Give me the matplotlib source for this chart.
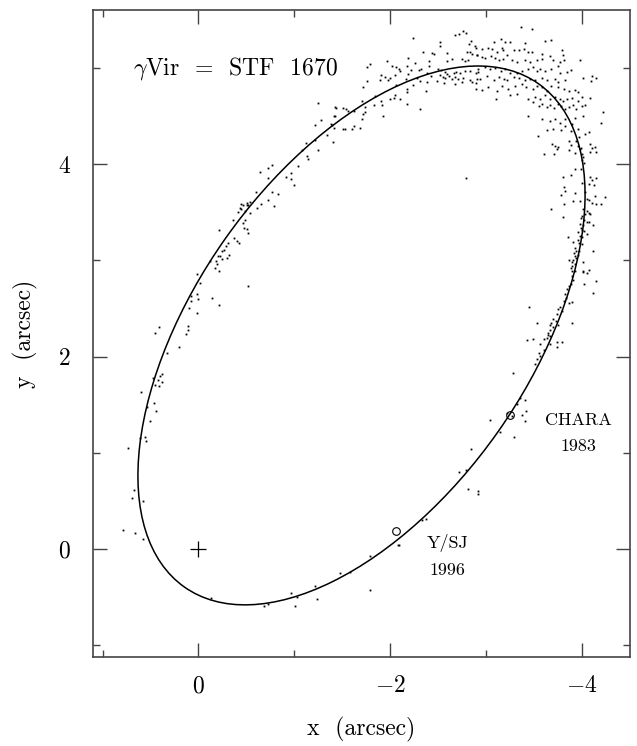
import matplotlib
matplotlib.use("Agg")
import matplotlib.pyplot as plt
from matplotlib.patches import Ellipse
import numpy as np

plt.rcParams["font.family"] = ["cmr10", "DejaVu Serif"]
plt.rcParams["mathtext.fontset"] = "cm"
plt.rcParams["axes.formatter.use_mathtext"] = True

# Apparent relative orbit (geometric ellipse, arcsec / degrees)
ORBIT_CENTER = (-1.70, 2.22)
ORBIT_AXES = (6.40, 3.48)
ORBIT_ANGLE = 125.3

# Observations (x, y) in arcsec
obs_points = [
    (-2.24, 5.31), (-2.67, 5.34), (-2.72, 5.35), (-2.76, 5.38), (-2.79, 5.36),
    (-2.52, 5.27), (-2.52, 5.23), (-2.82, 5.25), (-2.84, 5.28), (-2.88, 5.23),
    (-2.34, 5.16), (-2.43, 5.15), (-2.46, 5.14), (-2.59, 5.15), (-2.80, 5.16),
    (-2.83, 5.16), (-2.85, 5.14), (-2.90, 5.13), (-2.18, 5.10), (-2.40, 5.07),
    (-2.59, 5.07), (-2.64, 5.09), (-2.75, 5.09), (-2.78, 5.07), (-2.81, 5.08),
    (-1.79, 5.04), (-1.76, 5.01), (-1.97, 5.07), (-2.02, 5.02), (-2.06, 5.01),
    (-2.09, 4.99), (-2.10, 4.97), (-2.17, 5.02), (-2.22, 4.98), (-2.26, 5.05),
    (-2.30, 4.98), (-2.32, 4.99), (-2.40, 5.02), (-2.38, 4.95), (-2.50, 4.99),
    (-2.53, 4.98), (-2.57, 4.96), (-2.59, 4.94), (-2.52, 4.92), (-2.55, 4.90),
    (-2.57, 4.89), (-2.61, 4.91), (-2.66, 4.95), (-2.69, 4.96), (-2.73, 4.95),
    (-2.78, 4.97), (-2.83, 4.97), (-2.89, 4.95), (-2.92, 4.96), (-2.64, 4.88),
    (-2.68, 4.90), (-2.71, 4.88), (-2.76, 4.89), (-2.83, 4.87), (-2.85, 4.85),
    (-2.90, 4.88), (-1.90, 4.92), (-1.89, 4.87), (-1.95, 4.90), (-2.00, 4.89),
    (-1.98, 4.87), (-2.05, 4.92), (-2.16, 4.88), (-2.19, 4.94), (-2.28, 4.89),
    (-2.42, 4.91), (-2.31, 4.86), (-2.38, 4.85), (-2.49, 4.86), (-2.56, 4.84),
    (-2.67, 4.83), (-2.75, 4.85), (-2.89, 4.84), (-1.76, 4.86), (-1.72, 4.80),
    (-2.06, 4.82), (-2.17, 4.78), (-2.17, 4.75), (-2.24, 4.82), (-2.37, 4.76),
    (-2.00, 4.68), (-2.04, 4.69), (-2.10, 4.68), (-2.05, 4.72), (-1.84, 4.71),
    (-1.90, 4.66), (-1.91, 4.61), (-1.83, 4.61), (-1.70, 4.66), (-1.51, 4.58),
    (-1.54, 4.57), (-1.43, 4.58), (-1.56, 4.55), (-1.62, 4.55), (-1.74, 4.59),
    (-2.31, 4.57), (-2.17, 4.62), (-1.72, 4.52), (-1.74, 4.54), (-1.70, 4.47),
    (-1.92, 4.50), (-1.41, 4.50), (-1.51, 4.36), (-1.53, 4.36), (-1.62, 4.39),
    (-1.60, 4.36), (-1.68, 4.37), (-1.39, 4.41),
    (-3.36, 5.42), (-3.48, 5.40), (-3.15, 5.30), (-3.08, 5.27), (-3.20, 5.27),
    (-3.25, 5.27), (-3.41, 5.26), (-3.61, 5.28), (-3.68, 5.29), (-2.89, 5.21),
    (-2.96, 5.20), (-3.02, 5.21), (-3.06, 5.19), (-3.11, 5.16), (-3.16, 5.21),
    (-3.18, 5.18), (-3.29, 5.18), (-3.34, 5.18), (-3.39, 5.19), (-3.44, 5.16),
    (-3.48, 5.16), (-3.58, 5.14), (-3.67, 5.12), (-3.79, 5.18), (-3.80, 5.13),
    (-2.90, 5.13), (-2.96, 5.11), (-2.99, 5.10), (-3.05, 5.12), (-3.09, 5.10),
    (-3.13, 5.08), (-3.18, 5.09), (-3.22, 5.13), (-3.27, 5.08), (-3.32, 5.06),
    (-3.41, 5.08), (-3.46, 5.06), (-3.53, 5.08), (-3.58, 5.09), (-3.70, 5.08),
    (-3.77, 5.06), (-3.81, 5.08), (-3.98, 5.08), (-2.92, 4.99), (-2.99, 5.01),
    (-3.04, 4.99), (-3.09, 5.00), (-3.15, 4.97), (-3.20, 4.99), (-3.25, 4.95),
    (-3.32, 4.95), (-3.37, 4.97), (-3.44, 4.99), (-3.49, 5.01), (-3.53, 4.97),
    (-3.56, 4.99), (-3.61, 4.97), (-3.68, 4.99), (-3.75, 5.02), (-3.77, 4.95),
    (-3.84, 4.96), (-3.88, 4.98), (-2.94, 4.88), (-3.01, 4.91), (-3.08, 4.87),
    (-3.13, 4.90), (-3.19, 4.88), (-3.22, 4.87), (-3.29, 4.90), (-3.34, 4.89),
    (-3.41, 4.87), (-3.46, 4.88), (-3.51, 4.87), (-3.58, 4.89), (-3.63, 4.87),
    (-3.72, 4.88), (-3.75, 4.85), (-3.82, 4.87), (-4.01, 4.89), (-4.10, 4.91),
    (-4.15, 4.89), (-4.09, 4.86), (-2.89, 4.78), (-2.96, 4.77), (-3.02, 4.80),
    (-3.11, 4.76), (-3.16, 4.81), (-3.23, 4.78), (-3.30, 4.81), (-3.37, 4.83),
    (-3.42, 4.80), (-3.49, 4.78), (-3.53, 4.81), (-3.58, 4.80), (-3.63, 4.76),
    (-3.68, 4.81), (-3.75, 4.80), (-3.81, 4.78), (-3.86, 4.76), (-3.93, 4.77),
    (-3.96, 4.75), (-3.10, 4.68), (-3.25, 4.72), (-3.32, 4.73), (-3.44, 4.68),
    (-3.51, 4.70), (-3.56, 4.68), (-3.61, 4.72), (-3.67, 4.68), (-3.72, 4.70),
    (-3.77, 4.68), (-3.80, 4.66), (-3.84, 4.68), (-3.89, 4.69), (-3.96, 4.66),
    (-4.00, 4.70), (-4.08, 4.69), (-3.49, 4.64), (-3.55, 4.60), (-3.58, 4.62),
    (-3.63, 4.59), (-3.67, 4.61), (-3.71, 4.58), (-3.75, 4.62), (-3.78, 4.60),
    (-3.82, 4.57), (-3.86, 4.59), (-3.91, 4.61), (-3.94, 4.57), (-4.00, 4.60),
    (-4.03, 4.61), (-4.22, 4.54), (-3.44, 4.50), (-3.58, 4.47), (-3.67, 4.45),
    (-3.72, 4.47), (-3.77, 4.43), (-3.82, 4.47), (-3.89, 4.42), (-3.93, 4.48),
    (-4.01, 4.50), (-4.20, 4.43), (-3.63, 4.35), (-3.70, 4.36), (-3.78, 4.35),
    (-3.82, 4.40), (-3.88, 4.34), (-3.96, 4.36), (-4.03, 4.31), (-3.54, 4.29),
    (-4.07, 4.33),
    (-3.69, 4.21), (-3.72, 4.19), (-3.75, 4.18), (-3.74, 4.16), (-3.60, 4.10),
    (-3.71, 4.10), (-3.86, 4.24), (-3.88, 4.20), (-3.86, 4.15), (-3.93, 4.11),
    (-3.94, 4.24), (-3.96, 4.19), (-3.98, 4.16), (-4.00, 4.10), (-4.08, 4.21),
    (-4.10, 4.17), (-4.13, 4.18), (-4.08, 4.12), (-4.15, 4.13), (-3.97, 4.28),
    (-3.99, 4.17), (-4.01, 4.07), (-4.00, 4.04), (-4.02, 4.01), (-3.93, 3.95),
    (-3.99, 3.95), (-3.88, 3.89), (-3.80, 3.87), (-4.08, 3.87), (-4.15, 3.85),
    (-4.10, 3.83), (-4.00, 3.80), (-4.07, 3.79), (-3.81, 3.76), (-4.12, 3.78),
    (-3.93, 3.70), (-3.78, 3.68), (-3.82, 3.72), (-3.91, 3.62), (-3.98, 3.62),
    (-4.03, 3.71), (-4.05, 3.64), (-4.07, 3.63), (-4.10, 3.60), (-4.14, 3.67),
    (-4.15, 3.58), (-4.20, 3.58), (-4.24, 3.66), (-3.81, 3.58), (-3.68, 3.53),
    (-4.01, 3.53), (-4.05, 3.51), (-4.07, 3.49), (-4.03, 3.48), (-4.08, 3.48),
    (-4.00, 3.46), (-3.99, 3.44), (-4.02, 3.42), (-4.05, 3.40), (-4.07, 3.40),
    (-3.98, 3.38), (-4.01, 3.37), (-4.11, 3.37), (-3.99, 3.34), (-4.00, 3.31),
    (-3.96, 3.29), (-4.02, 3.30), (-4.05, 3.27), (-3.98, 3.25), (-4.00, 3.24),
    (-3.96, 3.21), (-3.97, 3.18), (-4.00, 3.17), (-3.93, 3.13), (-3.94, 3.10),
    (-3.97, 3.10), (-3.92, 3.08), (-3.96, 3.06), (-3.93, 3.05), (-3.94, 3.02),
    (-3.91, 3.00), (-3.89, 2.98), (-3.93, 2.96), (-3.90, 2.94), (-3.88, 2.92),
    (-3.89, 2.89), (-3.86, 3.00), (-3.85, 3.24), (-3.91, 3.19), (-3.80, 3.45),
    (-4.11, 3.10), (-4.01, 2.98), (-4.07, 2.90), (-4.01, 2.89),
    (-3.93, 2.89), (-3.90, 2.84), (-4.01, 2.88), (-4.05, 2.87), (-4.15, 2.79),
    (-3.91, 2.80), (-3.88, 2.75), (-3.86, 2.73), (-3.84, 2.70), (-4.02, 2.75),
    (-4.11, 2.66), (-3.82, 2.65), (-3.83, 2.61), (-3.81, 2.58), (-3.86, 2.56),
    (-3.89, 2.57), (-3.45, 2.52), (-3.77, 2.52), (-3.75, 2.49), (-3.79, 2.47),
    (-3.74, 2.44), (-3.70, 2.39), (-3.73, 2.37), (-3.68, 2.35), (-3.67, 2.33),
    (-3.75, 2.33), (-3.53, 2.35), (-3.89, 2.35), (-3.70, 2.31), (-3.67, 2.28),
    (-3.65, 2.25), (-3.64, 2.22), (-3.67, 2.21), (-3.63, 2.19), (-3.60, 2.18),
    (-3.49, 2.18), (-3.43, 2.17), (-3.74, 2.15), (-3.79, 2.15), (-3.56, 2.13),
    (-3.67, 2.13), (-3.74, 2.10), (-3.60, 2.07), (-3.55, 2.04), (-3.56, 2.01),
    (-3.53, 1.97), (-3.51, 1.92), (-3.28, 1.83), (-3.35, 1.57), (-3.41, 1.55),
    (-3.32, 1.51), (-3.42, 1.43), (-3.22, 1.41), (-3.27, 1.38), (-3.37, 1.39),
    (-3.40, 1.33), (-3.29, 1.17), (-3.14, 1.22), (-3.04, 1.34), (-2.84, 1.04),
    (-2.72, 0.80), (-2.79, 0.82), (-2.81, 0.63), (-2.91, 0.60), (-2.91, 0.57),
    (-2.37, 0.31), (-2.33, 0.30), (-2.09, 0.04), (-2.79, 3.85),
    (-1.25, 4.63), (-1.42, 4.59), (-1.42, 4.50), (-1.28, 4.46), (-1.21, 4.41),
    (-1.38, 4.42), (-1.41, 4.37), (-1.34, 4.30), (-1.40, 4.23), (-1.21, 4.25),
    (-1.25, 4.15), (-1.12, 4.22), (-1.08, 4.15), (-1.13, 4.08), (-1.14, 4.05),
    (-1.04, 3.98), (-1.00, 3.78), (-0.96, 3.91), (-0.91, 3.87), (-0.96, 3.84),
    (-0.72, 3.96), (-0.77, 3.99), (-0.64, 3.92), (-0.72, 3.86), (-0.77, 3.71),
    (-0.83, 3.69), (-0.79, 3.56), (-0.72, 3.63), (-0.65, 3.59), (-0.60, 3.71),
    (-0.54, 3.61), (-0.51, 3.57), (-0.43, 3.54), (-0.61, 3.54), (-0.49, 3.51),
    (-0.44, 3.59), (-0.46, 3.57),
    (-0.51, 3.60), (-0.52, 3.57), (-0.44, 3.53), (-0.54, 3.49), (-0.41, 3.50),
    (-0.36, 3.42), (-0.48, 3.42), (-0.46, 3.39), (-0.47, 3.34), (-0.51, 3.33),
    (-0.52, 3.28), (-0.21, 3.31), (-0.37, 3.23), (-0.40, 3.20), (-0.42, 3.18),
    (-0.31, 3.18), (-0.29, 3.15), (-0.27, 3.11), (-0.25, 3.10), (-0.32, 3.06),
    (-0.20, 3.05), (-0.22, 3.04), (-0.30, 3.02), (-0.25, 3.01), (-0.18, 2.99),
    (-0.12, 2.99), (-0.19, 2.96), (-0.17, 2.92), (-0.21, 2.89), (0.02, 2.86),
    (-0.02, 2.76), (-0.52, 2.73), (0.08, 2.63), (0.02, 2.65), (0.01, 2.60),
    (0.08, 2.58), (0.10, 2.50), (-0.14, 2.61), (-0.21, 2.54), (0.02, 2.45),
    (0.45, 2.25), (0.41, 2.31), (0.11, 2.32), (0.11, 2.28), (0.13, 2.23),
    (0.20, 2.10), (0.33, 2.04), (0.38, 1.82), (0.40, 1.80), (0.47, 1.78),
    (0.42, 1.76), (0.38, 1.74), (0.45, 1.71), (0.41, 1.69), (0.60, 1.63),
    (0.46, 1.52), (0.54, 1.48),
    (0.44, 1.44), (0.51, 1.33), (0.61, 1.15), (0.56, 1.16), (0.55, 1.12),
    (0.74, 1.05), (0.67, 0.61), (0.69, 0.53), (0.58, 0.50), (0.79, 0.20),
    (0.66, 0.17), (0.58, 0.11), (-0.13, -0.51), (-0.68, -0.59), (-0.72, -0.57),
    (-0.97, -0.46), (-1.03, -0.50), (-1.01, -0.59), (-1.22, -0.38), (-1.24, -0.52),
    (-1.48, -0.25), (-1.58, -0.24), (-1.79, -0.07), (-1.79, -0.42), (-2.08, 0.04),
]

# Reference measurements marked with open circles
ref_x = [-2.06, -3.25]
ref_y = [0.19, 1.39]

# Axis ranges (x runs east to the left)
x_range = (1.1, -4.5)
y_range = (-1.12, 5.6)

fig = plt.figure(figsize=(6.37, 7.46), dpi=100)
ax = fig.add_axes([93 / 637, 89 / 746, 537 / 637, 647 / 746])

obs = np.array(obs_points)
ax.plot(obs[:, 0], obs[:, 1], linestyle="none", marker="s",
        markersize=1.3, markeredgewidth=0, color="black")

orbit = Ellipse(ORBIT_CENTER, ORBIT_AXES[0], ORBIT_AXES[1], angle=ORBIT_ANGLE,
                fill=False, edgecolor="black", linewidth=1.1)
ax.add_patch(orbit)

ax.plot(ref_x, ref_y, linestyle="none", marker="o", markersize=5.5,
        markerfacecolor="none", markeredgecolor="black", markeredgewidth=0.8)
ax.plot([0], [0], marker="+", markersize=11, markeredgewidth=0.9, color="black")

ax.set_xlim(*x_range)
ax.set_ylim(*y_range)
ax.set_xticks([0, -2, -4])
ax.set_xticks([1, -1, -3], minor=True)
ax.set_yticks([0, 2, 4])
ax.set_yticks([-1, 1, 3, 5], minor=True)
ax.tick_params(which="both", direction="in", top=True, right=True,
               color="#444444", width=1.0)
ax.tick_params(which="major", length=10, labelsize=17)
ax.tick_params(axis="x", which="major", pad=13)
ax.tick_params(axis="y", which="major", pad=16)
ax.tick_params(which="minor", length=5)
for sp in ax.spines.values():
    sp.set_color("#444444")
    sp.set_linewidth(1.2)

ax.set_xlabel("x  (arcsec)", fontsize=17, labelpad=14)
ax.set_ylabel("y  (arcsec)", fontsize=17, labelpad=14)

ax.text(0.075, 0.91, r"$\gamma$Vir  =  STF  1670", transform=ax.transAxes,
        fontsize=17, ha="left", va="center")
ax.text(-2.60, 0.06, "Y/SJ", fontsize=13, ha="center", va="center")
ax.text(-2.60, -0.22, "1996", fontsize=13, ha="center", va="center")
ax.text(-3.96, 1.34, "CHARA", fontsize=13, ha="center", va="center")
ax.text(-3.96, 1.07, "1983", fontsize=13, ha="center", va="center")

fig.savefig("out.png", dpi=100)
